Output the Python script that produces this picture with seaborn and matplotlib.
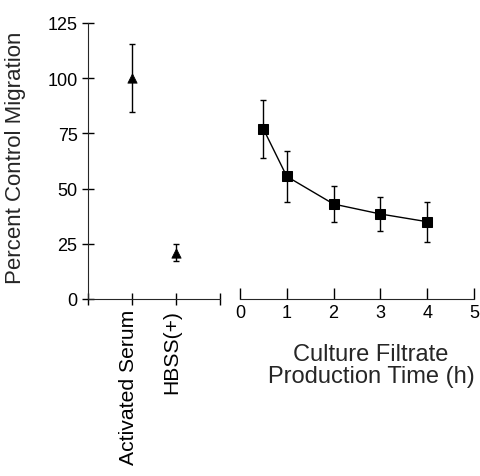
import seaborn as sns
import numpy as np
import pandas as pd
import matplotlib.pyplot as plt
import matplotlib.transforms as mtransforms

# left panel: controls
controls = ["Activated Serum", "HBSS(+)"]
control_mean = [100, 21]
control_err = [15.5, 4]

# right panel: culture filtrate time course
hours = [0.5, 1, 2, 3, 4]
filtrate_mean = [77, 55.5, 43, 38.5, 35]
filtrate_err = [13, 11.5, 8, 7.7, 9]

sns.set_style("ticks")
plt.rcParams['font.family'] = ['Liberation Sans', 'DejaVu Sans']

fig = plt.figure(figsize=(4.8, 4.77), dpi=100)
W, H = 480, 477
ax1 = fig.add_axes([88 / W, (H - 300) / H, 132 / W, 276 / H])
ax2 = fig.add_axes([240 / W, (H - 300) / H, 234 / W, 276 / H])

ctrl = pd.DataFrame({"pos": [1, 2], "mean": control_mean, "err": control_err})
ax1.errorbar(ctrl["pos"], ctrl["mean"], yerr=ctrl["err"], fmt="none",
             ecolor="black", elinewidth=1, capsize=2.5, capthick=1)
sns.scatterplot(data=ctrl, x="pos", y="mean", marker="^", color="black",
                s=45, edgecolor="black", ax=ax1, zorder=3)

filt = pd.DataFrame({"h": hours, "mean": filtrate_mean, "err": filtrate_err})
ax2.errorbar(filt["h"], filt["mean"], yerr=filt["err"], fmt="none",
             ecolor="black", elinewidth=1, capsize=2.5, capthick=1)
sns.lineplot(data=filt, x="h", y="mean", color="black", lw=1, marker="s",
             markersize=7, markeredgecolor="black", ax=ax2, zorder=3)

for ax in (ax1, ax2):
    ax.set_ylim(0, 125)
    ax.spines["top"].set_visible(False)
    ax.spines["right"].set_visible(False)
    ax.tick_params(direction="inout", length=8, width=1, labelsize=13, colors="black")

ax1.set_xlim(0, 3)
ax1.set_xticks([0, 1, 2, 3])
ax1.set_xticklabels([""] + controls + [""], rotation=90, fontsize=15.2)
ax1.tick_params(axis="x", pad=3)
shift = mtransforms.ScaledTranslation(-4 / 100, 0, fig.dpi_scale_trans)
for lab in ax1.get_xticklabels():
    lab.set_transform(lab.get_transform() + shift)
ax1.set_yticks([0, 25, 50, 75, 100, 125])
ax1.set_xlabel("")
ax1.set_ylabel("Percent Control Migration", fontsize=16)
ax1.yaxis.set_label_coords(-0.47, 0.515)

ax2.set_xlim(0, 5)
ax2.set_xticks([0, 1, 2, 3, 4, 5])
ax2.tick_params(axis="x", direction="in")
ax2.spines["left"].set_visible(False)
ax2.set_yticks([])
ax2.set_ylabel("")
ax2.set_xlabel("Culture Filtrate\nProduction Time (h)", fontsize=17, linespacing=1.0)
ax2.xaxis.set_label_coords(0.56, -0.16)

fig.savefig("out.png", dpi=100)
